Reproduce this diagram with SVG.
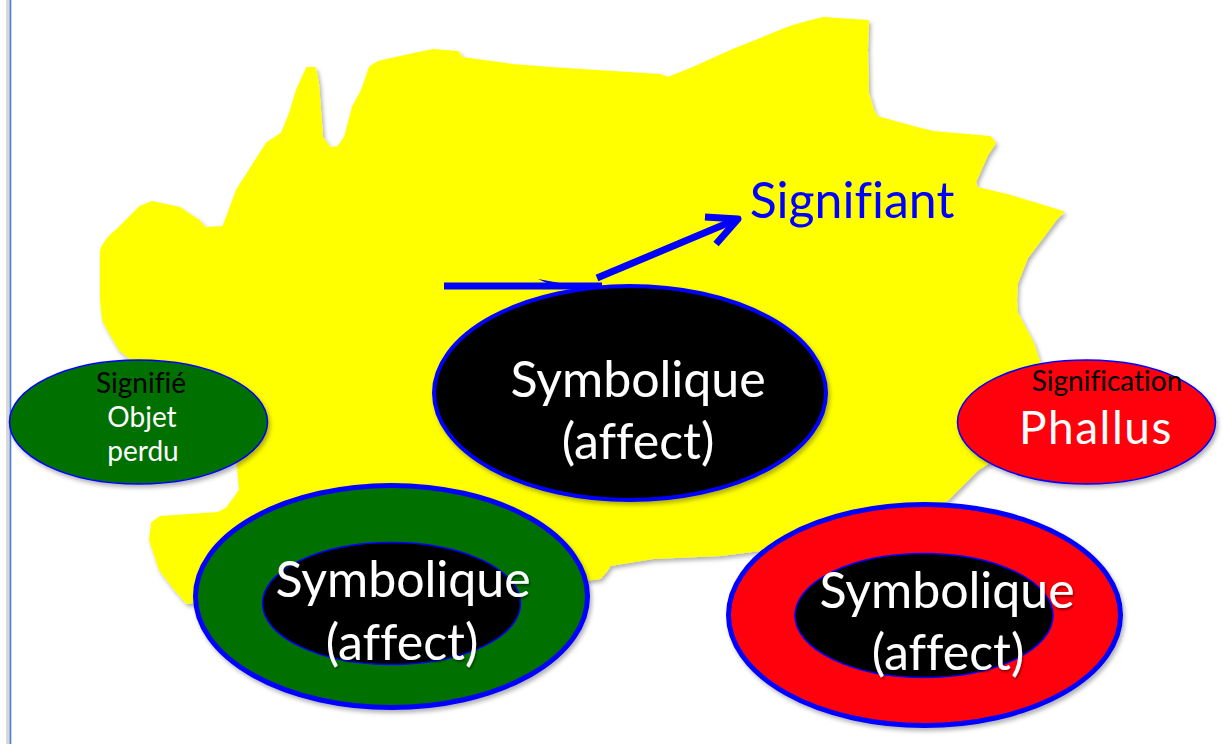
<svg xmlns="http://www.w3.org/2000/svg" width="1224" height="744" viewBox="0 0 1224 744">
<defs>
<filter id="sh" x="-10%" y="-10%" width="125%" height="130%">
<feDropShadow dx="2" dy="3" stdDeviation="2" flood-color="#000" flood-opacity="0.3"/>
</filter>
<filter id="tsh" x="-10%" y="-20%" width="130%" height="150%">
<feDropShadow dx="1" dy="2" stdDeviation="1" flood-color="#000" flood-opacity="0.45"/>
</filter>
</defs>
<style>
text{font-family:Lato,"Open Sans","Liberation Sans",sans-serif;text-anchor:middle;font-variant-ligatures:none;font-feature-settings:"liga" 0}
.big{font-size:50px;fill:#fff}
.small{font-size:28px}
.w{fill:#fff}
.k{fill:#000}
.thin{stroke:#0000ff;stroke-width:1.5}
.thick{stroke:#0000ff;stroke-width:5}
.conn{stroke:#0000ff;stroke-width:7;fill:none;stroke-linecap:butt;stroke-linejoin:round}
</style>
<rect width="1224" height="744" fill="#ffffff"/>
<rect x="6" y="0" width="3" height="744" fill="#d8d8d8"/>
<rect x="9.5" y="0" width="1.8" height="744" fill="#4a7fd0"/>

<g id="zone-jaune" filter="url(#sh)">
<path fill="#ffff00" stroke="#ffff00" stroke-width="2" stroke-linejoin="round" d="M101,300 L101,250 C105,240 110,235 117,230 L140,207 L152,202 L180,208 L187,213 L198,220 L205,228 L223,227 L227,217 L237,190 L267,143 L282,133 L290,113 L297,90 L307,68 L315,68 L318,83 L322,137 L330,148 L338,147 L345,137 L353,107 L362,90 L370,67 L378,62 L400,57 L433,50 L458,52 L462,58 L513,65 L550,68 L660,75 L668,78 L693,68 L733,50 L790,27 L800,24 L823,18 L868,21 L867,50 L868,93 L873,110 L877,117 L913,127 L933,132 L990,137 L995,143 L987,155 L975,182 L977,188 L1007,195 L1040,205 L1063,212 L1057,218 L1027,258 L1017,283 L1016,300 L1017,313 L1033,343 L1045,380 L1040,430 L977,470 L960,487 L947,500 L900,520 L760,550 L720,555 L653,558 L610,565 L607,570 L600,578 L585,580 L400,570 L187,603 L173,587 L160,570 L150,540 L152,523 L160,517 L218,513 L227,508 L240,490 L238,467 L236,440 L130,358 L120,350 L110,333 L103,320 Z"/>
</g>

<g id="connectors">
<line class="conn" x1="444" y1="286" x2="602" y2="286"/>
<path d="M538,279 L560,283 L560,289 Z" fill="#0000ff"/>
<line class="conn" x1="597" y1="278" x2="735" y2="220"/>
<polyline class="conn" points="705,217 738,219 716,244" stroke-linecap="round"/>
</g>

<g id="signifiant">
<text x="852" y="218" style="font-size:50px;fill:#0000ff">Signifiant</text>
</g>

<g id="symbolique-centre">
<ellipse cx="630" cy="393" rx="196" ry="107" fill="#000" stroke="#0000ff" stroke-width="4" filter="url(#sh)"/>
<text class="big" x="638" y="397" filter="url(#tsh)">Symbolique</text>
<text class="big" x="638" y="459" filter="url(#tsh)">(affect)</text>
</g>

<g id="signifie">
<ellipse class="thin" cx="138.5" cy="422" rx="129" ry="62" fill="#006f00" filter="url(#sh)"/>
<text class="small k" x="141" y="393">Signifié</text>
<text class="small w" x="142" y="427">Objet</text>
<text class="small w" x="143" y="461">perdu</text>
</g>

<g id="signification">
<ellipse class="thin" cx="1086.5" cy="422" rx="129" ry="62" fill="#ff0010" filter="url(#sh)"/>
<text class="small k" x="1107" y="391">Signification</text>
<text x="1096" y="444" style="font-size:46px;fill:#fff;letter-spacing:1.5px">Phallus</text>
</g>

<g id="symbolique-vert">
<ellipse class="thick" cx="391.5" cy="596.5" rx="196" ry="111" fill="#006f00" filter="url(#sh)"/>
<ellipse class="thin" cx="391.5" cy="603.5" rx="129" ry="61" fill="#000"/>
<text class="big" x="403" y="597" filter="url(#tsh)">Symbolique</text>
<text class="big" x="402" y="660" filter="url(#tsh)">(affect)</text>
</g>

<g id="symbolique-rouge">
<ellipse class="thick" cx="924.5" cy="615" rx="196" ry="110.5" fill="#ff0010" filter="url(#sh)"/>
<ellipse class="thin" cx="924" cy="615.5" rx="129" ry="62" fill="#000"/>
<text class="big" x="947" y="608" filter="url(#tsh)">Symbolique</text>
<text class="big" x="948" y="670" filter="url(#tsh)">(affect)</text>
</g>
</svg>
